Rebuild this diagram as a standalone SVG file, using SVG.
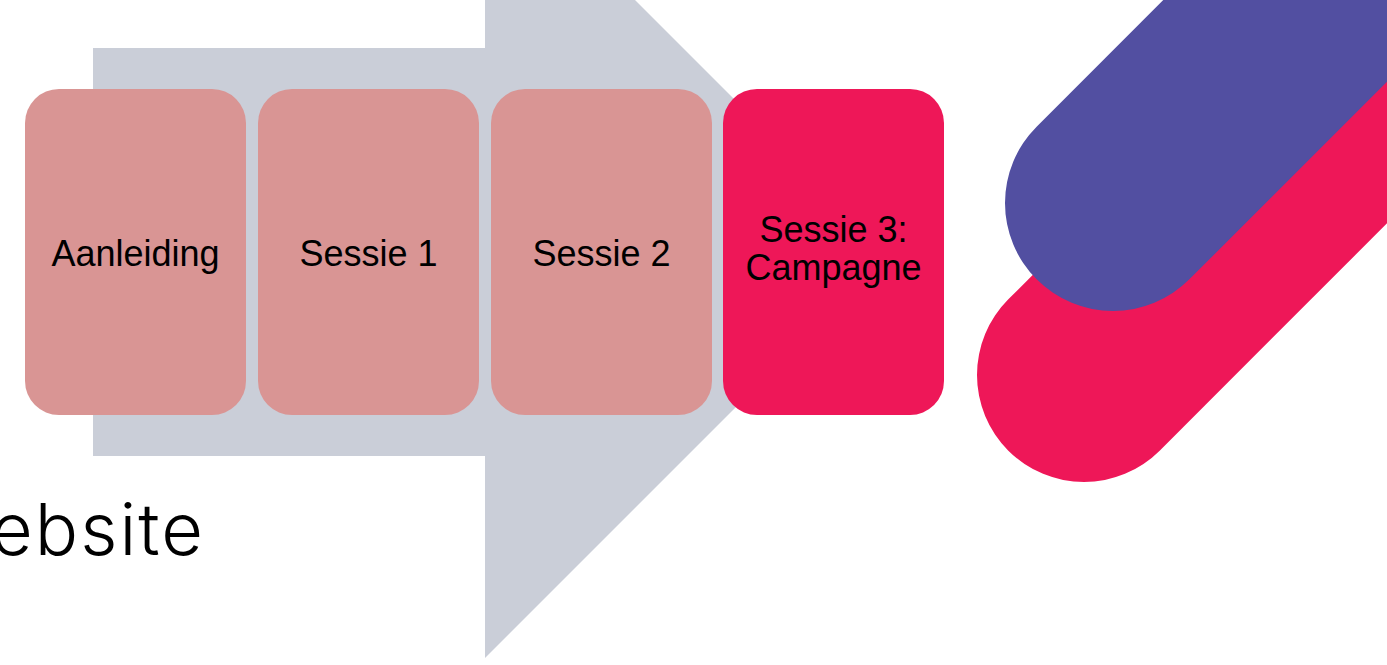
<svg xmlns="http://www.w3.org/2000/svg" width="1387" height="665" viewBox="0 0 1387 665">
  <style>
    .step { fill: #D99594; }
    .active { fill: #EE1758; }
    .lbl { font-family: "Liberation Sans", Arial, sans-serif; font-size: 36px; fill: #000; text-anchor: middle; }
    .title { font-family: Inter, "Liberation Sans", sans-serif; font-weight: 300; font-size: 72px; fill: #000; }
  </style>
  <rect width="1387" height="665" fill="#FFFFFF"/>
  <g id="logo">
    <line x1="1084" y1="375" x2="1600" y2="-141" stroke="#EE1758" stroke-width="214" stroke-linecap="round"/>
    <line x1="1113" y1="203" x2="1600" y2="-284" stroke="#524FA1" stroke-width="216" stroke-linecap="round"/>
  </g>
  <g id="arrow">
    <polygon points="93,48 485,48 485,-150 889,254 485,658 485,456 93,456" fill="#CACED8"/>
  </g>
  <g id="connectors"></g>
  <g id="node-aanleiding">
    <rect class="step" x="25" y="89" width="221" height="326" rx="34" ry="34"/>
    <text class="lbl" x="135.5" y="266">Aanleiding</text>
  </g>
  <g id="node-sessie1">
    <rect class="step" x="258" y="89" width="221" height="326" rx="34" ry="34"/>
    <text class="lbl" x="368.5" y="266">Sessie 1</text>
  </g>
  <g id="node-sessie2">
    <rect class="step" x="491" y="89" width="221" height="326" rx="34" ry="34"/>
    <text class="lbl" x="601.5" y="266">Sessie 2</text>
  </g>
  <g id="node-sessie3">
    <rect class="active" x="723" y="89" width="221" height="326" rx="34" ry="34"/>
    <text class="lbl" x="833.5" y="242">Sessie 3:</text>
    <text class="lbl" x="833.5" y="280">Campagne</text>
  </g>
  <text class="title" x="-9" y="555" textLength="212" lengthAdjust="spacing">ebsite</text>
</svg>
